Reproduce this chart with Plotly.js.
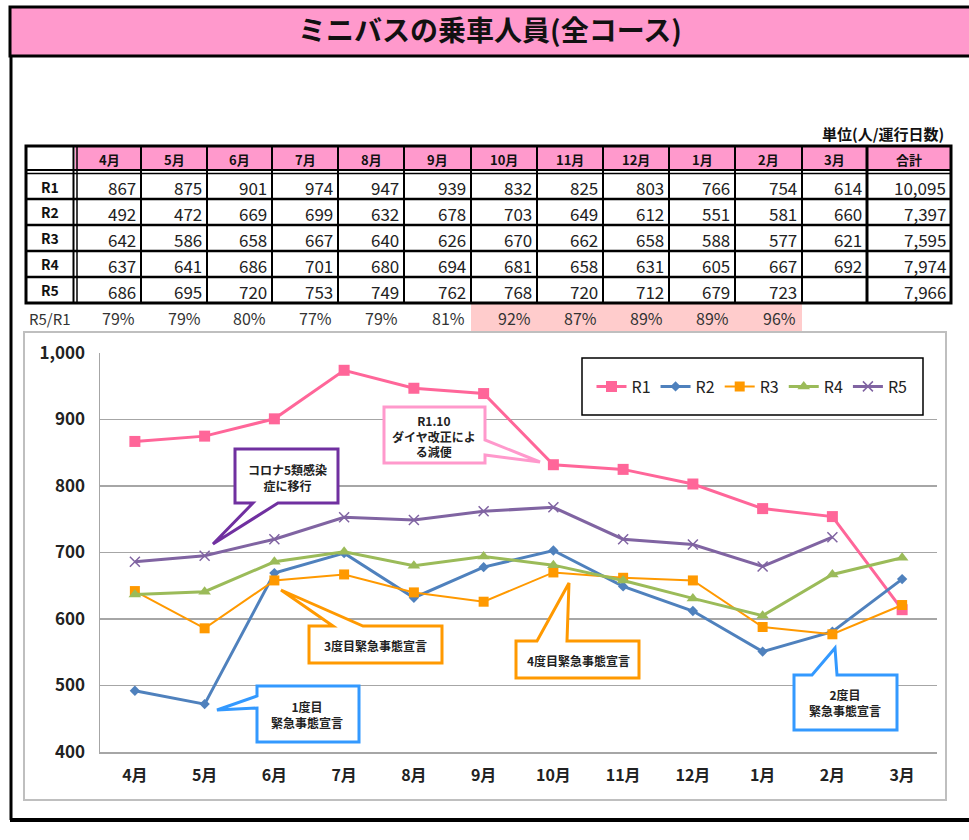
<!DOCTYPE html>
<html><head><meta charset="utf-8">
<script src="https://cdn.plot.ly/plotly-3.0.1.min.js"></script>
<style>body{margin:0;background:#fff}#chart{width:969px;height:840px}</style>
</head><body><div id="chart"></div><script>
// ---------- data ----------
const months = ['4月','5月','6月','7月','8月','9月','10月','11月','12月','1月','2月','3月'];
const seriesNames = ['R1','R2','R3','R4','R5'];
const r1 = [867,875,901,974,947,939,832,825,803,766,754,614];
const r2 = [492,472,669,699,632,678,703,649,612,551,581,660];
const r3 = [642,586,658,667,640,626,670,662,658,588,577,621];
const r4 = [637,641,686,701,680,694,681,658,631,605,667,692];
const r5 = [686,695,720,753,749,762,768,720,712,679,723,null];
const totals = [10095,7397,7595,7974,7966];
const ratioR5R1 = [79,79,80,77,79,81,92,87,89,89,96,null];
const yTicks = [400,500,600,700,800,900,1000];
const titleText = 'ミニバスの乗車人員(全コース)';
const unitText = '単位(人/運行日数)';
const totalHeader = '合計';
const ratioLabel = 'R5/R1';
const calloutTexts = ['コロナ5類感染<br>症に移行','R1.10<br>ダイヤ改正によ<br>る減便','3度目緊急事態宣言','1度目<br>緊急事態宣言','4度目緊急事態宣言','2度目<br>緊急事態宣言'];

// ---------- helpers ----------
const W=969,H=840;
const px=x=>x/W, py=y=>1-y/H;
const shapes=[], ann=[];
const FONT='Noto Sans CJK JP, Noto Sans, sans-serif';
function rect(x0,y0,x1,y1,fill,lc,lw,layer){shapes.push({type:'rect',xref:'paper',yref:'paper',x0:px(x0),x1:px(x1),y0:py(y1),y1:py(y0),fillcolor:fill||'rgba(0,0,0,0)',line:{color:lc||'rgba(0,0,0,0)',width:lw||0},layer:layer||'below'});}
function line(x0,y0,x1,y1,c,w,layer){shapes.push({type:'line',xref:'paper',yref:'paper',x0:px(x0),x1:px(x1),y0:py(y0),y1:py(y1),line:{color:c,width:w},layer:layer||'below'});}
function text(t,x,y,o){ann.push(Object.assign({text:t,xref:'paper',yref:'paper',x:px(x),y:py(y),showarrow:false,xanchor:'center',yanchor:'middle',font:{family:FONT,size:12,color:'#222'}},o||{}));}
function poly(pts,color,width){
  const d='M'+pts.map(p=>px(p[0]).toFixed(5)+','+py(p[1]).toFixed(5)).join(' L')+' Z';
  shapes.push({type:'path',xref:'paper',yref:'paper',path:d,fillcolor:'#ffffff',line:{color:color,width:width},layer:'above'});
}

// ---------- frame & title ----------
rect(10,7,975,56,'#ff99cc','#000',3);
line(11,56,11,820,'#000',3);
line(10,820,975,820,'#000',4);
text(unitText,946,133,{xanchor:'right',font:{family:FONT,size:15,color:'#111',weight:'bold'}});

// ---------- table ----------
const colEdges=[26,75,141,207,272,338,404,471,537,603,669,735,802,867,951];
const rowEdges=[146,172,199,225,251,277,303];
const seriesData=[r1,r2,r3,r4,r5];
rect(colEdges[1],rowEdges[0],colEdges[14],rowEdges[1]-2,'#ff99cc');
rect(colEdges[7],304,colEdges[12],331,'#ffcccc');
for(let i=2;i<14;i++){ line(colEdges[i],rowEdges[0],colEdges[i],rowEdges[6],'#000',i===13?3:2); }
line(73.5,rowEdges[0],73.5,rowEdges[6],'#000',2);
line(77,rowEdges[0],77,rowEdges[6],'#000',1.5);
line(colEdges[0],170,colEdges[14],170,'#000',2);
line(colEdges[0],173.5,colEdges[14],173.5,'#000',1.5);
for(let r=2;r<6;r++){ line(colEdges[0],rowEdges[r],colEdges[14],rowEdges[r],'#000',2.5); }
rect(colEdges[0],rowEdges[0],colEdges[14],rowEdges[6],null,'#000',3);

const hdrs=months.concat([totalHeader]);
hdrs.forEach((m,i)=>{ const x0=i===0?77:colEdges[i+1]; text(m,(x0+colEdges[i+2])/2,159,{font:{family:FONT,size:13,color:'#111',weight:'bold'}}); });
seriesNames.forEach((s,r)=>{
  const yc=(rowEdges[r+1]+rowEdges[r+2])/2+(r===0?1.5:0);
  text(s,50,yc,{font:{family:FONT,size:14,color:'#111',weight:'bold'}});
  seriesData[r].forEach((v,i)=>{ if(v!==null) text(String(v),colEdges[i+2]-3,yc+1,{xanchor:'right',font:{family:FONT,size:17,color:'#222'}}); });
  text(totals[r].toLocaleString('en-US'),colEdges[14]-3,yc+1,{xanchor:'right',font:{family:FONT,size:17,color:'#222'}});
});
text(ratioLabel,50,318,{font:{family:FONT,size:15,color:'#333'}});
ratioR5R1.forEach((v,i)=>{ if(v!==null) text(v+'%',colEdges[i+2]-4,318,{xanchor:'right',font:{family:FONT,size:16,color:'#333'}}); });

// ---------- chart frame & legend box ----------
rect(24,332,946,800,null,'#bfbfbf',2);
rect(582,358,923,415,null,'#000',1.5);

// ---------- callouts ----------
const cf={family:FONT,size:12,color:'#222',weight:'bold'};
poly([[235,449],[338,449],[338,503],[278,503],[213,544],[253,503],[235,503]],'#7030a0',3);
text(calloutTexts[0],287,477,{font:cf});
poly([[384,407],[485,407],[485,440],[540,462],[485,455],[485,463],[384,463]],'#ff99cc',3);
text(calloutTexts[1],434,436,{font:cf});
poly([[309,626],[333,626],[281,590],[363,626],[442,626],[442,663],[309,663]],'#ff9900',3);
text(calloutTexts[2],375,645,{font:cf});
poly([[257,686],[359,686],[359,742],[257,742],[257,708],[217,710],[257,696]],'#3399ff',3);
text(calloutTexts[3],307,714,{font:cf});
poly([[516,641],[537,641],[569,583],[567,641],[639,641],[639,678],[516,678]],'#ff9900',3);
text(calloutTexts[4],578,660,{font:cf});
poly([[794,675],[812,675],[835,648],[837,675],[897,675],[897,730],[794,730]],'#3399ff',3);
text(calloutTexts[5],845,702,{font:cf});

// ---------- traces ----------
const styles=[
  {color:'#ff6699',symbol:'square',size:11,width:3},
  {color:'#4f81bd',symbol:'diamond',size:8,width:3},
  {color:'#ff9900',symbol:'square',size:10,width:2},
  {color:'#9bbb59',symbol:'triangle-up',size:11,width:3},
  {color:'#8064a2',symbol:'x-thin',size:10,width:3}
];
const traces=seriesData.map((d,i)=>({
  type:'scatter',mode:'lines+markers',x:months,y:d,name:seriesNames[i],connectgaps:false,
  line:{color:styles[i].color,width:styles[i].width},
  marker:{symbol:styles[i].symbol,size:styles[i].size,color:styles[i].color,line:{color:styles[i].color,width:styles[i].symbol==='x-thin'?1.5:0}}
}));

const layout={
  width:W,height:H,margin:{l:0,r:0,t:0,b:0},
  paper_bgcolor:'#fff',plot_bgcolor:'rgba(0,0,0,0)',
  font:{family:FONT},
  title:{text:titleText,x:px(490),xanchor:'center',y:py(31),yanchor:'middle',font:{family:FONT,size:28,color:'#111',weight:'bold'}},
  xaxis:{domain:[px(100),px(937)],type:'category',range:[-0.5,11.5],showgrid:false,zeroline:false,showline:true,linecolor:'#a6a6a6',linewidth:1.5,ticks:'',tickfont:{family:FONT,size:16,color:'#222',weight:'bold'},ticklabelstandoff:8,fixedrange:true},
  yaxis:{domain:[py(752),py(353)],range:[400,1000],tickvals:yTicks,tickformat:',d',gridcolor:'#a6a6a6',gridwidth:1.5,zeroline:false,showline:true,linecolor:'#a6a6a6',linewidth:1.5,ticks:'',tickfont:{family:FONT,size:17,color:'#222',weight:'bold'},ticklabelstandoff:10,fixedrange:true},
  showlegend:true,
  legend:{orientation:'h',x:px(752),xanchor:'center',y:py(386.5),yanchor:'middle',bgcolor:'rgba(0,0,0,0)',borderwidth:0,font:{family:FONT,size:16,color:'#222'},itemwidth:30,tracegroupgap:0},
  shapes:shapes,annotations:ann
};
Plotly.newPlot('chart',traces,layout,{displayModeBar:false,staticPlot:true});
</script></body></html>
